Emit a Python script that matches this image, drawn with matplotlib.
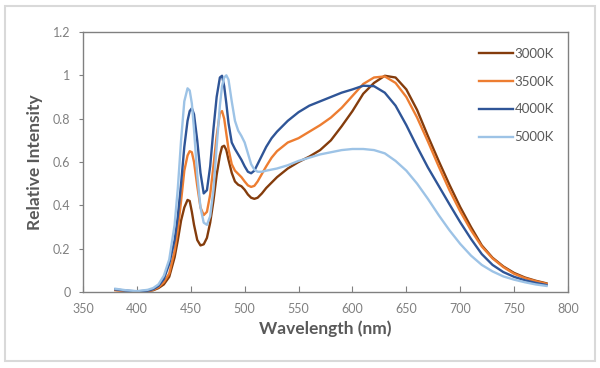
import matplotlib
matplotlib.use("Agg")
import matplotlib.pyplot as plt
from matplotlib.patches import Rectangle

plt.rcParams['font.family'] = ['Lato', 'DejaVu Sans']

# wavelengths (nm)
wl = [380, 390, 400, 410, 415, 420, 425, 430, 435, 438, 441, 444, 447, 449, 451,
      453, 456, 459, 462, 465, 468, 471, 474, 477, 479, 481, 483, 485, 488, 491,
      494, 497, 500, 503, 506, 509, 512, 516, 520, 525, 530, 540, 550, 560, 570,
      580, 590, 600, 610, 620, 630, 640, 650, 660, 670, 680, 690, 700, 710, 720,
      730, 740, 750, 760, 770, 780]

k3000 = [0.010, 0.005, 0.002, 0.004, 0.008, 0.018, 0.035, 0.070, 0.160, 0.240, 0.330,
         0.390, 0.425, 0.420, 0.370, 0.310, 0.240, 0.215, 0.220, 0.250, 0.320, 0.420,
         0.540, 0.630, 0.670, 0.675, 0.655, 0.610, 0.550, 0.510, 0.495, 0.488, 0.472,
         0.450, 0.435, 0.430, 0.435, 0.455, 0.480, 0.505, 0.530, 0.570, 0.600, 0.625,
         0.655, 0.700, 0.765, 0.835, 0.915, 0.965, 0.998, 0.990, 0.935, 0.840, 0.720,
         0.605, 0.495, 0.392, 0.300, 0.215, 0.158, 0.118, 0.088, 0.067, 0.052, 0.040]

k3500 = [0.008, 0.004, 0.002, 0.005, 0.010, 0.022, 0.045, 0.085, 0.190, 0.290, 0.420,
         0.560, 0.630, 0.650, 0.645, 0.600, 0.490, 0.390, 0.355, 0.370, 0.450, 0.580,
         0.720, 0.825, 0.835, 0.800, 0.730, 0.660, 0.590, 0.560, 0.545, 0.530, 0.510,
         0.492, 0.485, 0.490, 0.510, 0.545, 0.580, 0.620, 0.650, 0.690, 0.710, 0.740,
         0.770, 0.805, 0.850, 0.905, 0.960, 0.990, 0.995, 0.965, 0.900, 0.805, 0.695,
         0.580, 0.470, 0.372, 0.285, 0.210, 0.155, 0.115, 0.084, 0.064, 0.050, 0.038]

k4000 = [0.012, 0.006, 0.003, 0.006, 0.013, 0.028, 0.060, 0.130, 0.240, 0.350, 0.500,
         0.670, 0.790, 0.835, 0.848, 0.820, 0.700, 0.550, 0.455, 0.470, 0.580, 0.750,
         0.900, 0.990, 0.998, 0.950, 0.870, 0.780, 0.690, 0.660, 0.635, 0.610, 0.580,
         0.555, 0.548, 0.560, 0.590, 0.630, 0.670, 0.710, 0.740, 0.790, 0.830, 0.860,
         0.880, 0.900, 0.920, 0.935, 0.952, 0.950, 0.920, 0.860, 0.770, 0.670, 0.575,
         0.490, 0.405, 0.322, 0.245, 0.175, 0.125, 0.092, 0.070, 0.054, 0.042, 0.032]

k5000 = [0.015, 0.008, 0.004, 0.010, 0.018, 0.035, 0.075, 0.150, 0.310, 0.480, 0.700,
         0.880, 0.940, 0.930, 0.870, 0.750, 0.540, 0.390, 0.320, 0.310, 0.350, 0.470,
         0.670, 0.860, 0.950, 0.990, 1.000, 0.980, 0.880, 0.790, 0.745, 0.720, 0.690,
         0.640, 0.590, 0.565, 0.555, 0.555, 0.560, 0.565, 0.570, 0.585, 0.605, 0.620,
         0.635, 0.645, 0.655, 0.660, 0.660, 0.655, 0.640, 0.605, 0.560, 0.500, 0.430,
         0.355, 0.285, 0.222, 0.168, 0.125, 0.095, 0.072, 0.057, 0.045, 0.035, 0.028]

labels = ["3000K", "3500K", "4000K", "5000K"]
colors = ["#843c0c", "#ed7d31", "#2f5597", "#9dc3e6"]

fig = plt.figure(figsize=(6, 3.68), dpi=100)
ax = fig.add_axes([83/600, 1 - 292/368, 485/600, 260/368])

for ys, lab, c in zip([k3000, k3500, k4000, k5000], labels, colors):
    ax.plot(wl, ys, color=c, lw=1.7, label=lab)

ax.set_xlim(350, 800)
ax.set_ylim(0, 1.2)
ax.set_xticks(range(350, 801, 50))
ax.set_yticks([0, 0.2, 0.4, 0.6, 0.8, 1.0, 1.2])
ax.set_yticklabels(["0", "0.2", "0.4", "0.6", "0.8", "1", "1.2"])

for s in ax.spines.values():
    s.set_color("#808080")
    s.set_linewidth(1.0)
ax.tick_params(axis='x', direction='in', length=4, colors="#808080",
               labelcolor="#808080", labelsize=9, pad=8)
ax.tick_params(axis='y', direction='out', length=3, colors="#808080",
               labelcolor="#808080", labelsize=9, pad=6)

ax.set_xlabel("Wavelength (nm)", fontsize=12.5, fontweight='bold', color="#595959", labelpad=4)
ax.set_ylabel("Relative Intensity", fontsize=12.5, fontweight='bold', color="#595959", labelpad=7)

leg = ax.legend(loc='upper right', bbox_to_anchor=(0.985, 0.965), frameon=False,
                fontsize=9.5, handlelength=2.6, handletextpad=0.1, labelspacing=1.2,
                borderpad=0)
for t in leg.get_texts():
    t.set_color("#595959")

fig.patches.append(Rectangle((5/600, 7/368), 590/600, 355/368, transform=fig.transFigure,
                             fill=False, edgecolor="#d9d9d9", lw=1.5))

fig.savefig("out.png", dpi=100)
